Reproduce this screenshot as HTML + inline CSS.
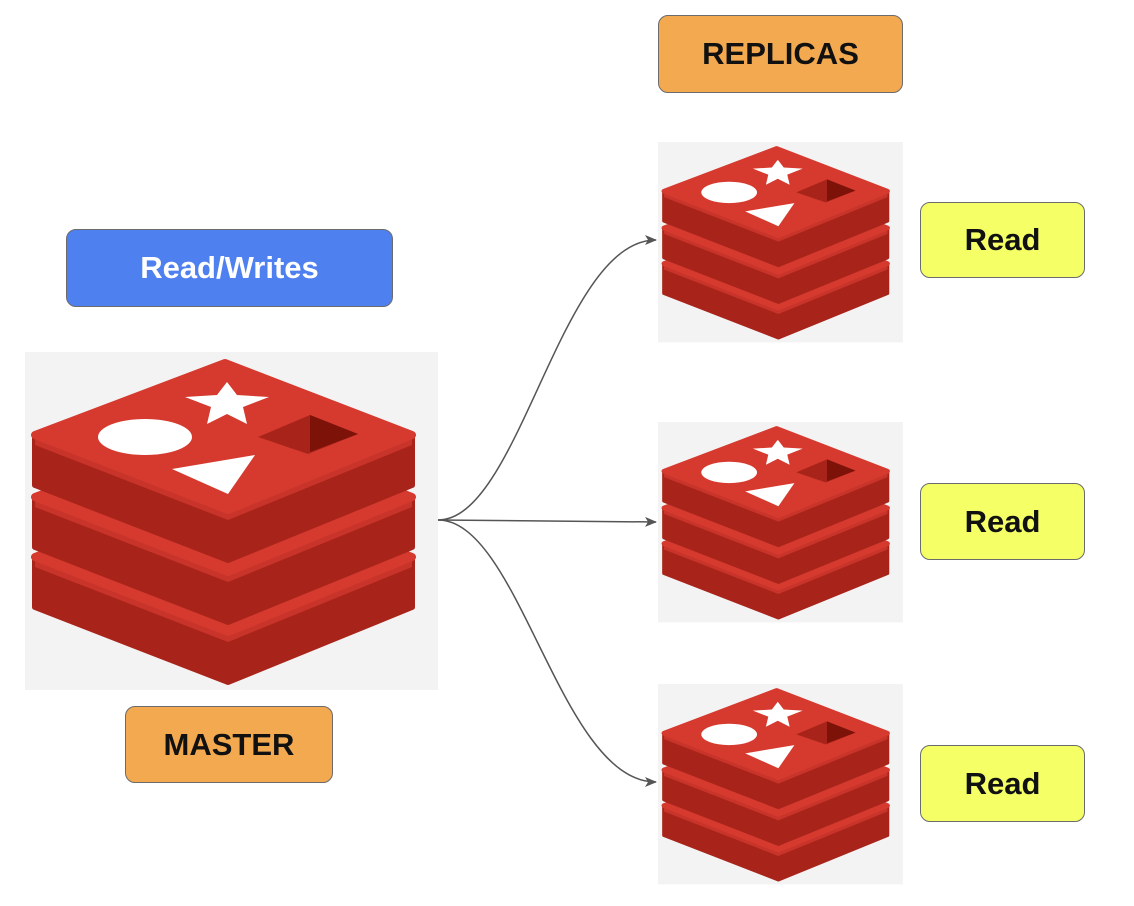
<!DOCTYPE html>
<html><head><style>
body{margin:0;background:#fff;width:1134px;height:906px;overflow:hidden;position:relative;font-family:"Liberation Sans",sans-serif;}
.b{position:absolute;box-sizing:border-box;border:1.5px solid #6b6b6b;border-radius:10px;display:flex;align-items:center;justify-content:center;font-weight:bold;font-size:31px;color:#111;}
</style></head><body>
<svg width="1134" height="906" style="position:absolute;left:0;top:0">
<defs>
<g id="layer">
<path d="M10,0 L200,-72 L387,0 L387,50 L203,125 L10,50 Z" fill="#a8241a" stroke="#a8241a" stroke-width="6" stroke-linejoin="round"/>
<path d="M10,0 L203,75 L387,0 L387,10 L203,85 L10,10 Z" fill="#c9342a"/>
<path d="M10,0 L200,-72 L387,0 L203,75 Z" fill="#d63a2f" stroke="#d63a2f" stroke-width="8" stroke-linejoin="round"/>
</g>
<g id="logo">
<rect width="413" height="338" fill="#f3f3f3"/>
<use href="#layer" y="205"/>
<use href="#layer" y="145"/>
<use href="#layer" y="83"/>
<ellipse cx="120" cy="85" rx="47" ry="18" fill="#fff"/>
<polygon points="202,30 212,43 244,45 218,55 222,72 202,62 182,72 186,55 160,45 192,43" fill="#fff"/>
<polygon points="147,117 230,103 203,142" fill="#fff"/>
<polygon points="233,85 285,63 333,82 283,102" fill="#a8241a"/>
<polygon points="285,63 333,82 285,100" fill="#7d1209"/>
</g>
<marker id="ar" markerWidth="12" markerHeight="10" refX="11" refY="5" orient="auto" markerUnits="userSpaceOnUse">
<path d="M0,0 L12,5 L0,10 L3,5 Z" fill="#555"/>
</marker>
</defs>
<use href="#logo" x="25" y="352"/>
<g transform="translate(658,142) scale(0.593)"><use href="#logo"/></g>
<g transform="translate(658,422) scale(0.593)"><use href="#logo"/></g>
<g transform="translate(658,684) scale(0.593)"><use href="#logo"/></g>
<g fill="none" stroke="#555" stroke-width="1.5">
<path d="M438,520 C520,520 560,240 656,240" marker-end="url(#ar)"/>
<path d="M438,520 L656,522" marker-end="url(#ar)"/>
<path d="M438,520 C520,520 560,782 656,782" marker-end="url(#ar)"/>
</g>
</svg>
<div class="b" style="left:658px;top:15px;width:245px;height:78px;background:#f2a94f;">REPLICAS</div>
<div class="b" style="left:66px;top:229px;width:327px;height:78px;background:#4f80ef;color:#fff;">Read/Writes</div>
<div class="b" style="left:125px;top:706px;width:208px;height:77px;background:#f2a94f;">MASTER</div>
<div class="b" style="left:920px;top:202px;width:165px;height:76px;background:#f5ff66;">Read</div>
<div class="b" style="left:920px;top:483px;width:165px;height:77px;background:#f5ff66;">Read</div>
<div class="b" style="left:920px;top:745px;width:165px;height:77px;background:#f5ff66;">Read</div>
</body></html>
